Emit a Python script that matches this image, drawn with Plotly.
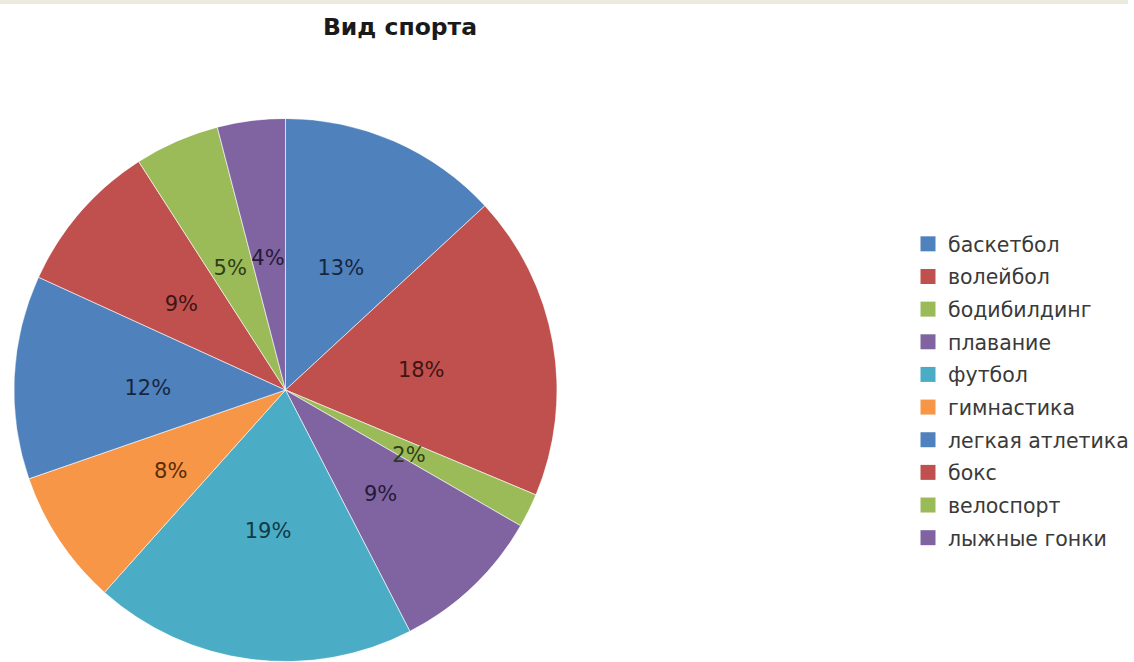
import plotly.graph_objects as go

# Share of respondents by sport, percent
sports = ["баскетбол", "волейбол", "бодибилдинг", "плавание", "футбол",
          "гимнастика", "легкая атлетика", "бокс", "велоспорт", "лыжные гонки"]
shares = [13, 18, 2, 9, 19, 8, 12, 9, 5, 4]

palette = ["#4F81BD", "#C0504D", "#9BBB59", "#8064A2", "#4BACC6",
           "#F79646", "#4F81BD", "#C0504D", "#9BBB59", "#8064A2"]
label_colors = ["#17263f", "#3f1514", "#2f3d15", "#261a38", "#123a45",
                "#5a2c08", "#17263f", "#3f1514", "#2f3d15", "#261a38"]

W, H = 1134, 662
FONT = "DejaVu Sans"
PIE_DOMAIN = dict(x=[14 / W, 560 / W], y=[0, (H - 118) / H])
# Label layer: same centre column, baseline nudged a few pixels lower
LABEL_DOMAIN = dict(x=[20.5 / W, 553.5 / W], y=[0, (H - 130) / H])

# Slice geometry in degrees, clockwise from 12 o'clock
total = sum(shares)
spans = [v / total * 360 for v in shares]
mids = []
acc = 0.0
for s in spans:
    mids.append(acc + s / 2)
    acc += s

fig = go.Figure()

# Pie wedges
fig.add_trace(go.Barpolar(
    r=[1] * len(shares),
    theta=mids,
    width=spans,
    base=0,
    marker=dict(color=palette, line=dict(color="rgba(255,255,255,0.6)", width=1)),
    customdata=sports,
    hovertemplate="%{customdata}: %{text}<extra></extra>",
    text=[f"{v}%" for v in shares],
    showlegend=False,
    subplot="polar",
))

# Data labels, about halfway out along each slice's middle
fig.add_trace(go.Scatterpolar(
    r=[0.52] * len(shares),
    theta=mids,
    mode="text",
    text=[f"{v}%" for v in shares],
    textfont=dict(family=FONT, size=21, color=label_colors),
    showlegend=False,
    hoverinfo="skip",
    subplot="polar2",
))

# Legend entries, one group per sport so the rows can be spaced apart
for name, col in zip(sports, palette):
    fig.add_trace(go.Scatter(
        x=[None], y=[None], mode="markers", name=name,
        legendgroup=name,
        marker=dict(symbol="square", size=15, color=col),
    ))

polar_common = dict(
    bgcolor="rgba(0,0,0,0)",
    bargap=0,
    angularaxis=dict(visible=False, rotation=90, direction="clockwise"),
    radialaxis=dict(visible=False, range=[0, 1]),
)

fig.update_layout(
    width=W, height=H,
    margin=dict(l=0, r=0, t=0, b=0),
    paper_bgcolor="white",
    plot_bgcolor="white",
    xaxis=dict(visible=False),
    yaxis=dict(visible=False),
    polar=dict(domain=PIE_DOMAIN, **polar_common),
    polar2=dict(domain=LABEL_DOMAIN, **polar_common),
    title=dict(text="<b>Вид спорта</b>", x=400 / W, xanchor="center",
               y=1 - 27 / H, yanchor="middle",
               font=dict(family=FONT, size=23.5, color="#1a1a1a")),
    legend=dict(
        x=913 / W, xanchor="left",
        y=1 - 224 / H, yanchor="top",
        font=dict(family=FONT, size=20.5, color="#3a3a3a"),
        tracegroupgap=3,
        itemwidth=30,
        bgcolor="rgba(0,0,0,0)",
    ),
    shapes=[dict(type="rect", xref="paper", yref="paper",
                 x0=0, x1=1, y0=1 - 4 / H, y1=1,
                 fillcolor="#ECEADF", line=dict(width=0), layer="above")],
)

fig.write_html("out.html")
